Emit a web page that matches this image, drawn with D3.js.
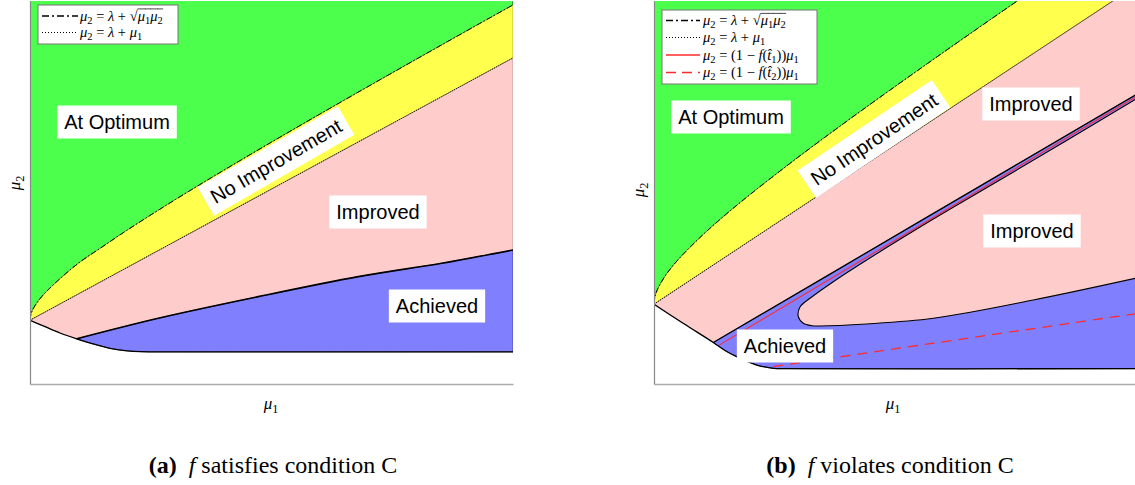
<!DOCTYPE html>
<html><head><meta charset="utf-8">
<script src="https://cdn.jsdelivr.net/npm/d3@7"></script>
<style>body{margin:0;background:#fff;} svg{display:block;} text{white-space:pre;}</style>
</head><body>
<svg id="chart" width="1135" height="485"></svg>
<script>
// ================= DATA =================
// Left panel: f satisfies condition C
const leftOptimumCurve = [[0,2.43],[0.02,2.661],[0.05,2.805],[0.1,2.976],[0.25,3.345],[0.5,3.810],[1,4.601],[1.5,5.231],[2,5.851],[3,7.019],[4,8.134],[5,9.220],[6,10.286],[7,11.339],[8,12.383],[9,13.420],[10,14.451]];
const leftBaseLine = [[0,2.43],[10,12.43]];
const leftLowerBoundary = [[0,2.43],[0.311,2.185],[0.621,1.944],[0.967,1.723],[1.346,1.506],[1.656,1.361],[1.967,1.273],[2.313,1.231],[2.692,1.228],[10,1.228]];
const leftAchievedUpper = [[0.967,1.723],[2.656,2.505],[4.727,3.328],[6.797,4.091],[8.524,4.602],[10,5.109]];
const leftLabels = ["At Optimum","No Improvement","Improved","Achieved"];

// Right panel: f violates condition C
const rightOptimumCurve = [[0,2.5],[0.02,2.734],[0.05,2.880],[0.1,3.052],[0.25,3.426],[0.5,3.896],[1,4.658],[1.5,5.327],[2,5.950],[3,7.123],[4,8.242],[5,9.330],[6,10.399],[7,11.454],[7.6,12.082]];
const rightBaseLine = [[0,2.5],[10,12.5]];
const rightLowerBoundary = [[0,2.5],[0.611,1.895],[1.228,1.300],[1.470,1.049],[1.712,0.855],[2.126,0.595],[2.470,0.492],[2.816,0.482],[10,0.482]];
const rightAchievedUpper = [[1.228,1.300],[5.6,5.18],[10,9.085]];
const rightFingerOutline = [[10,8.944],[7.371,6.579],[5.783,5.169],[4.404,3.885],[3.712,3.205],[3.230,2.685],[3.023,2.412],[2.988,2.108],[3.092,1.901],[3.272,1.826],[3.437,1.817],[4.404,1.880],[5.783,2.058],[7.854,2.632],[10,3.322]];
const rightRedSolid = [[1.35,1.218],[10,9.02]];
const rightRedDashed = [[2.47,0.546],[10,2.209]];
const rightLabels = ["At Optimum","No Improvement","Improved","Improved","Achieved"];

// Legend / caption texts (math parts)
const legendOptimum = [{t:"μ",it:1},{t:"2",sub:1},{t:" = "},{t:"λ",it:1},{t:" + "},{t:"√"},{t:"μ",it:1,over:1},{t:"1",sub:1,over:1},{t:"μ",it:1,over:1},{t:"2",sub:1,over:1}];
const legendBase = [{t:"μ",it:1},{t:"2",sub:1},{t:" = "},{t:"λ",it:1},{t:" + "},{t:"μ",it:1},{t:"1",sub:1}];
const legendT1 = [{t:"μ",it:1},{t:"2",sub:1},{t:" = (1 − "},{t:"f",it:1},{t:"("},{t:"t\u0302",it:1},{t:"1",sub:1},{t:"))"},{t:"μ",it:1},{t:"1",sub:1}];
const legendT2 = [{t:"μ",it:1},{t:"2",sub:1},{t:" = (1 − "},{t:"f",it:1},{t:"("},{t:"t\u0302",it:1},{t:"2",sub:1},{t:"))"},{t:"μ",it:1},{t:"1",sub:1}];
const xLabel = [{t:"μ",it:1},{t:"1",sub:1}];
const yLabel = [{t:"μ",it:1},{t:"2",sub:1}];
const captionA = [{t:"(a)",b:1},{t:"  "},{t:"f",it:1},{t:" satisfies condition C"}];
const captionB = [{t:"(b)",b:1},{t:"  "},{t:"f",it:1},{t:" violates condition C"}];

// ================= STYLE =================
const C = {green:"rgb(77,255,77)", yellow:"rgb(255,255,77)", pink:"rgb(255,204,204)", blue:"rgb(128,128,255)", red:"#ff2a2a"};
const sans = "'Liberation Sans', Arial, Helvetica, sans-serif";
const serif = "'Liberation Serif','DejaVu Serif','Times New Roman',serif";
const svg = d3.select("#chart");

function mathRow(g, parts, size) {
  let cx = 0;
  parts.forEach(p => {
    const fs = p.sub ? size*0.72 : size;
    const t = g.append("text").attr("x", cx).attr("y", p.sub ? size*0.22 : 0)
      .attr("font-family", serif).attr("font-size", fs)
      .attr("font-style", p.it ? "italic" : "normal")
      .attr("font-weight", p.b ? "bold" : "normal")
      .attr("fill", "#000").text(p.t);
    const w = t.node().getComputedTextLength();
    if (p.over) g.append("line").attr("x1", cx).attr("x2", cx + w + 0.5)
      .attr("y1", -size*0.80).attr("y2", -size*0.80).attr("stroke", "#000").attr("stroke-width", 0.7);
    cx += w;
  });
  return cx;
}

function boxLabel(g, text, cx, cy, rot) {
  const lg = g.append("g").attr("transform", `translate(${cx},${cy}) rotate(${rot || 0})`);
  const rect = lg.append("rect").attr("fill", "#fff");
  const t = lg.append("text").attr("text-anchor", "middle").attr("dy", "0.36em")
    .attr("font-family", sans).attr("font-size", 20).attr("fill", "#000").text(text);
  const w = t.node().getComputedTextLength();
  rect.attr("x", -w/2 - 7).attr("y", -16.5).attr("width", w + 14).attr("height", 33);
}

function drawPanel(cfg) {
  const x = d3.scaleLinear().domain(cfg.xDomain).range(cfg.xRange);
  const y = d3.scaleLinear().domain(cfg.yDomain).range(cfg.yRange);
  const g = svg.append("g");
  const clipId = cfg.id + "-clip";
  g.append("clipPath").attr("id", clipId).append("rect")
    .attr("x", cfg.xRange[0]).attr("y", cfg.yRange[1])
    .attr("width", cfg.xRange[1] - cfg.xRange[0]).attr("height", cfg.yRange[0] - cfg.yRange[1]);
  const plot = g.append("g").attr("clip-path", `url(#${clipId})`);
  const line = d3.line().x(d => x(d[0])).y(d => y(d[1])).curve(d3.curveCatmullRom);
  const poly = segs => segs.map((s, i) => {
    const p = line(s).replace(/Z$/, "");
    return i ? p.replace(/^M/, "L") : p;
  }).join("") + "Z";
  const top = cfg.yDomain[1] + 1, xr = cfg.xDomain[1];
  const rev = a => a.slice().reverse();

  // fills
  plot.append("path").attr("d", poly([[[0, top]], cfg.optimum, [[xr, top]]])).attr("fill", C.green)
    .attr("stroke", "rgba(0,0,0,0.35)").attr("stroke-width", 0.8);
  plot.append("path").attr("d", poly([cfg.optimum, [[xr, top]], rev(cfg.base)])).attr("fill", C.yellow)
    .attr("stroke", "rgba(0,0,0,0.35)").attr("stroke-width", 0.8);
  plot.append("path").attr("d", poly([cfg.base, rev(cfg.lower)])).attr("fill", C.pink)
    .attr("stroke", "rgba(0,0,0,0.3)").attr("stroke-width", 0.8);
  const a0 = cfg.achieved[0][0];
  plot.append("path").attr("d", poly([cfg.achieved, rev(cfg.lower.filter(d => d[0] >= a0))])).attr("fill", C.blue)
    .attr("stroke", "rgba(0,0,60,0.45)").attr("stroke-width", 1);
  if (cfg.finger) plot.append("path").attr("d", poly([cfg.finger])).attr("fill", C.pink);

  // boundary lines
  plot.append("path").attr("d", line(cfg.optimum)).attr("fill", "none").attr("stroke", "#000")
    .attr("stroke-width", 1).attr("stroke-dasharray", "6,2,1.5,2");
  plot.append("path").attr("d", line(cfg.base)).attr("fill", "none").attr("stroke", "#000")
    .attr("stroke-width", 0.9).attr("stroke-dasharray", "1.2,1.2");
  plot.append("path").attr("d", line(cfg.lower)).attr("fill", "none").attr("stroke", "#000").attr("stroke-width", 1.3);
  plot.append("path").attr("d", line(cfg.achieved)).attr("fill", "none").attr("stroke", "#000").attr("stroke-width", cfg.finger ? 1.3 : 1.7);
  if (cfg.finger) {
    plot.append("path").attr("d", line(cfg.finger)).attr("fill", "none").attr("stroke", "#000").attr("stroke-width", 1.1);
    plot.append("path").attr("d", line(cfg.redSolid)).attr("fill", "none").attr("stroke", C.red).attr("stroke-width", 1.1);
    plot.append("path").attr("d", line(cfg.redDashed)).attr("fill", "none").attr("stroke", C.red)
      .attr("stroke-width", 1.3).attr("stroke-dasharray", "10,7");
  }

  // axes
  const ax = g.append("g").attr("transform", `translate(0,${cfg.yRange[0]})`)
    .call(d3.axisBottom(x).tickValues([]).tickSizeOuter(0));
  const ay = g.append("g").attr("transform", `translate(${cfg.xRange[0]},0)`)
    .call(d3.axisLeft(y).tickValues([]).tickSizeOuter(0));
  ax.select(".domain").attr("stroke", "#aaa").attr("stroke-width", 1.5);
  ay.select(".domain").attr("stroke", "#888").attr("stroke-width", 1.2);

  // region labels
  cfg.labels.forEach((txt, i) => { const p = cfg.labelPos[i]; boxLabel(g, txt, p[0], p[1], p[2]); });

  // legend
  const L = cfg.legend;
  const lg = g.append("g");
  lg.append("rect").attr("x", L.x0).attr("y", L.y0).attr("width", L.x1 - L.x0).attr("height", L.y1 - L.y0)
    .attr("fill", "#fff").attr("stroke", "#777").attr("stroke-width", 1);
  L.rows.forEach((r, i) => {
    const yy = L.rowY[i];
    lg.append("line").attr("x1", L.sx0).attr("x2", L.sx1).attr("y1", yy).attr("y2", yy)
      .attr("stroke", r.color).attr("stroke-width", r.w).attr("stroke-dasharray", r.dash);
    const tg = lg.append("g").attr("transform", `translate(${L.tx},${yy + 4.5})`);
    mathRow(tg, r.parts, 14.5);
  });

  // axis labels
  const xl = g.append("g");
  const wx = mathRow(xl, xLabel, 17);
  xl.attr("transform", `translate(${cfg.xLabelPos[0] - wx/2},${cfg.xLabelPos[1]})`);
  const yl = g.append("g");
  const wy = mathRow(yl, yLabel, 17);
  yl.attr("transform", `translate(${cfg.yLabelPos[0]},${cfg.yLabelPos[1]}) rotate(-90) translate(${-wy/2},0)`);

  // caption
  const cg = g.append("g");
  const wc = mathRow(cg, cfg.caption, 24);
  cg.attr("transform", `translate(${cfg.captionPos[0] - wc/2},${cfg.captionPos[1]})`);
}

drawPanel({
  id: "left", xDomain: [0, 10], yDomain: [0, 14.6], xRange: [30, 513], yRange: [384, 1],
  optimum: leftOptimumCurve, base: leftBaseLine, lower: leftLowerBoundary, achieved: leftAchievedUpper,
  labels: leftLabels, labelPos: [[117, 122], [276, 161, -30], [378, 212], [437, 306]],
  legend: {x0: 38, y0: 5, x1: 178, y1: 44, sx0: 42, sx1: 78, tx: 80, rowY: [16, 32.5],
    rows: [{parts: legendOptimum, color: "#000", w: 1.6, dash: "7,3,2,3"},
           {parts: legendBase, color: "#000", w: 1, dash: "1,2"}]},
  xLabelPos: [271, 409], yLabelPos: [20, 183], caption: captionA, captionPos: [273, 473]
});

drawPanel({
  id: "right", xDomain: [0, 10], yDomain: [0, 12], xRange: [654, 1137], yRange: [384, 1],
  optimum: rightOptimumCurve, base: rightBaseLine, lower: rightLowerBoundary, achieved: rightAchievedUpper,
  finger: rightFingerOutline, redSolid: rightRedSolid, redDashed: rightRedDashed,
  labels: rightLabels, labelPos: [[731, 117], [874, 139, -34], [1031, 104], [1032, 231], [785, 346]],
  legend: {x0: 662, y0: 10, x1: 817, y1: 84, sx0: 666, sx1: 700, tx: 703, rowY: [20.5, 37.5, 55, 72.5],
    rows: [{parts: legendOptimum, color: "#000", w: 1.6, dash: "7,3,2,3"},
           {parts: legendBase, color: "#000", w: 1, dash: "1,2"},
           {parts: legendT1, color: C.red, w: 1.3, dash: null},
           {parts: legendT2, color: C.red, w: 1.3, dash: "10,6"}]},
  xLabelPos: [893, 409], yLabelPos: [644, 190], caption: captionB, captionPos: [890, 473]
});
</script>
</body></html>
